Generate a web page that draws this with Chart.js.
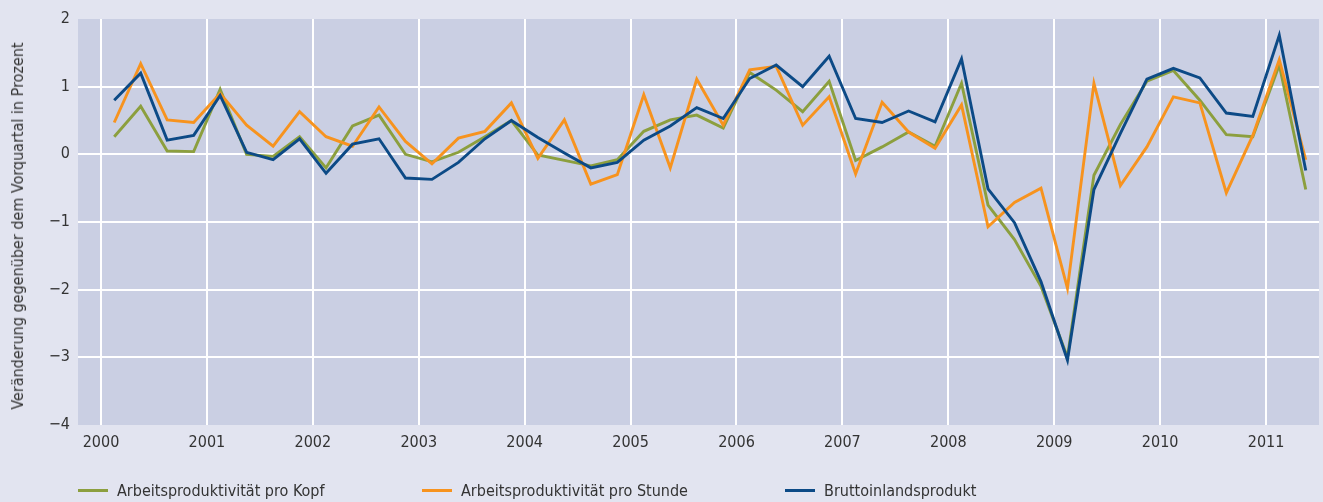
<!DOCTYPE html>
<html>
<head>
<meta charset="utf-8">
<script src="https://cdn.jsdelivr.net/npm/chart.js@4/dist/chart.umd.min.js"></script>
<style>
  html, body { margin:0; padding:0; background:#e2e4f0; }
  #wrap { position:relative; width:1323px; height:502px; }
  canvas { position:absolute; left:0; top:0; }
  .leg { position:absolute; top:481px; font-family:"Liberation Sans Narrow","DejaVu Sans Condensed",sans-serif; font-size:16px; color:#333; white-space:nowrap; line-height:20px; }
  .leg span.sw { display:inline-block; width:30px; height:3px; vertical-align:middle; margin-right:9px; position:relative; top:-1px; }
  #ytitle { position:absolute; left:18px; top:226px; transform:translate(-50%,-50%) rotate(-90deg); font-family:"Liberation Sans Narrow","DejaVu Sans Condensed",sans-serif; font-size:16px; color:#333; white-space:nowrap; line-height:18px; }
</style>
</head>
<body>
<div id="wrap">
  <canvas id="c" width="1323" height="502"></canvas>
  <div id="ytitle">Veränderung gegenüber dem Vorquartal in Prozent</div>
  <div class="leg" style="left:78px;"><span class="sw" style="background:#8c9f3e"></span>Arbeitsproduktivität pro Kopf</div>
  <div class="leg" style="left:422px;"><span class="sw" style="background:#f7931e"></span>Arbeitsproduktivität pro Stunde</div>
  <div class="leg" style="left:785px;"><span class="sw" style="background:#0c4a86"></span>Bruttoinlandsprodukt</div>
</div>
<script>
const years = [2000,2001,2002,2003,2004,2005,2006,2007,2008,2009,2010,2011];
const quarters = [];
for (const y of years) for (const q of [1,2,3,4]) quarters.push(y + 'Q' + q);
quarters.length = 46; // 2000Q1 .. 2011Q2

const yTicks = [-4,-3,-2,-1,0,1,2];

const proKopf = [0.26,0.71,0.05,0.04, 0.96,0.00,-0.03,0.26, -0.20,0.42,0.58,0.00, -0.11,0.03,0.26,0.50,
  -0.01,-0.09,-0.17,-0.08, 0.34,0.51,0.58,0.39, 1.21,0.95,0.63,1.08, -0.09,0.11,0.33,0.12,
  1.05,-0.75,-1.26,-1.95, -3.00,-0.31,0.44,1.08, 1.24,0.80,0.29,0.26, 1.32,-0.52];
const proStunde = [0.47,1.34,0.51,0.47, 0.90,0.43,0.12,0.63, 0.26,0.12,0.70,0.19, -0.14,0.24,0.34,0.76,
  -0.06,0.51,-0.44,-0.30, 0.88,-0.20,1.11,0.43, 1.25,1.30,0.43,0.85, -0.29,0.77,0.33,0.09,
  0.73,-1.07,-0.71,-0.50, -1.98,1.05,-0.46,0.11, 0.85,0.76,-0.57,0.28, 1.40,-0.08];
const bip = [0.80,1.20,0.21,0.28, 0.87,0.03,-0.08,0.23, -0.28,0.15,0.23,-0.35, -0.37,-0.12,0.23,0.50,
  0.25,0.02,-0.20,-0.12, 0.21,0.42,0.69,0.53, 1.12,1.32,1.00,1.45, 0.53,0.47,0.64,0.48,
  1.41,-0.51,-1.01,-1.88, -3.04,-0.52,0.31,1.11, 1.27,1.13,0.61,0.56, 1.76,-0.24];

function qx(label) { const y = +label.slice(0,4), q = +label.slice(5); return y + (q - 0.5) / 4; }
function pts(arr) { return arr.map((v,i) => ({x: qx(quarters[i]), y: v})); }

const FONT = '"Liberation Sans Narrow","DejaVu Sans Condensed",sans-serif';

const bgPlugin = {
  id: 'plotbg',
  beforeDraw(chart) {
    const {ctx, chartArea:a} = chart;
    ctx.save(); ctx.fillStyle = '#cacfe3'; ctx.fillRect(a.left, a.top, a.right-a.left, a.bottom-a.top); ctx.restore();
  }
};

new Chart(document.getElementById('c'), {
  type: 'line',
  data: {
    datasets: [
      { label: 'Bruttoinlandsprodukt', data: pts(bip), borderColor: '#0c4a86', borderWidth: 2.9, pointRadius: 0, order: 0, tension: 0 },
      { label: 'Arbeitsproduktivität pro Stunde', data: pts(proStunde), borderColor: '#f7931e', borderWidth: 2.9, pointRadius: 0, order: 1, tension: 0 },
      { label: 'Arbeitsproduktivität pro Kopf', data: pts(proKopf), borderColor: '#8c9f3e', borderWidth: 2.9, pointRadius: 0, order: 2, tension: 0 }
    ]
  },
  plugins: [bgPlugin],
  options: {
    responsive: false, animation: false, devicePixelRatio: 1,
    layout: { padding: { left: 0, right: 4, top: 19, bottom: 0 } },
    plugins: { legend: { display: false }, tooltip: { enabled: false } },
    scales: {
      x: {
        type: 'linear', min: 1999.783, max: 2011.5,
        afterBuildTicks(s) { s.ticks = years.map(v => ({value: v})); },
        afterFit(s) { s.height = 77; },
        ticks: { color: '#333', padding: 8, font: { family: FONT, size: 16 }, callback: v => String(v), maxRotation: 0, autoSkip: false },
        grid: { color: '#ffffff', lineWidth: 2, drawTicks: false },
        border: { display: false }
      },
      y: {
        type: 'linear', min: -4, max: 2,
        afterBuildTicks(s) { s.ticks = yTicks.map(v => ({value: v})); },
        afterFit(s) { s.width = 78; },
        ticks: { color: '#333', padding: 8, font: { family: FONT, size: 16 }, callback: v => v < 0 ? '\u2212' + Math.abs(v) : String(v) },
        grid: { color: c => (c.tick && (c.tick.value === -4 || c.tick.value === 2)) ? 'rgba(0,0,0,0)' : '#ffffff', lineWidth: 2, drawTicks: false },
        border: { display: false }
      }
    }
  }
});
</script>
</body>
</html>
